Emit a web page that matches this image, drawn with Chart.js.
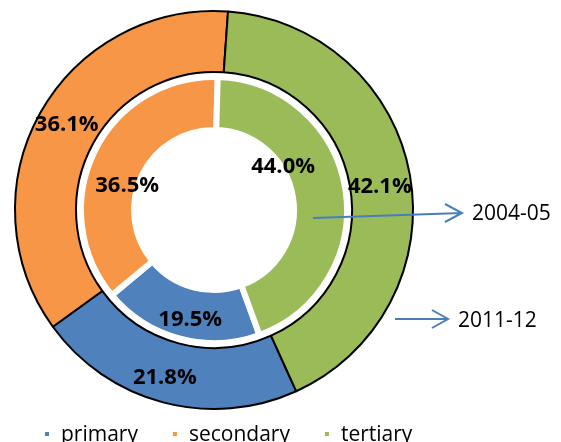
<!DOCTYPE html>
<html>
<head>
<meta charset="utf-8">
<script src="https://cdn.jsdelivr.net/npm/chart.js@4.4.0/dist/chart.umd.min.js"></script>
<style>
html, body { margin: 0; padding: 0; background: #fff; }
</style>
</head>
<body>
<canvas id="myChart" width="561" height="442"></canvas>
<script>
const labels = ["primary", "secondary", "tertiary"]
const colorHex = ["#4f81bd", "#f79646", "#9bbb59"]
const share2011 = [21.8, 36.1, 42.1]   // outer ring
const share2004 = [19.5, 36.5, 44.0]   // inner ring
const ringNames = ["2011-12", "2004-05"]

// small hand nudges so the labels sit where the original put them
const outerNudge = [[-6, 5], [0, -3], [0, 7]]
const innerNudge = [[4, 7], [9, 22], [-36, -26]]

Chart.defaults.font.family = '"Open Sans", sans-serif'

const pctLabels = {
    id: 'pctLabels',
    afterDatasetsDraw(chart) {
        const c = chart.ctx
        c.save()
        c.font = 'bold 22px "Open Sans"'
        c.fillStyle = '#000'
        c.textAlign = 'center'
        c.textBaseline = 'middle'
        const rings = [[0, outerNudge], [2, innerNudge]]
        rings.forEach(([di, nudge]) => {
            chart.getDatasetMeta(di).data.forEach((arc, i) => {
                const p = arc.tooltipPosition()
                const v = chart.data.datasets[di].data[i]
                c.fillText(v.toFixed(1) + '%', p.x + nudge[i][0], p.y + nudge[i][1])
            })
        })
        c.restore()
    }
}

function arrow(c, x1, y1, x2, y2, back, half) {
    c.beginPath()
    c.moveTo(x1, y1)
    c.lineTo(x2, y2)
    c.moveTo(x2 - back, y2 - half)
    c.lineTo(x2, y2)
    c.lineTo(x2 - back, y2 + half)
    c.stroke()
}

const extras = {
    id: 'extras',
    afterDraw(chart) {
        const c = chart.ctx
        const arc = chart.getDatasetMeta(0).data[0]
        const cx = arc.x, cy = arc.y
        c.save()
        c.strokeStyle = '#4a7ebb'
        c.lineWidth = 2
        arrow(c, cx + 99, cy + 8, cx + 248, cy + 3, 17, 9)
        arrow(c, cx + 181, cy + 109, cx + 234, cy + 109, 16, 9)
        c.font = '21px "Open Sans"'
        c.fillStyle = '#000'
        c.textBaseline = 'middle'
        c.fillText(ringNames[1], cx + 258, cy + 4)
        c.fillText(ringNames[0], cx + 244, cy + 111)

        // legend
        let x = 45
        const y = 441
        labels.forEach((lab, i) => {
            c.fillStyle = colorHex[i]
            c.fillRect(x, 432, 4, 4)
            c.fillStyle = '#000'
            c.textBaseline = 'alphabetic'
            c.fillText(lab, x + 16, y)
            x += 16 + c.measureText(lab).width + 35
        })
        c.restore()
    }
}

const ctx = document.getElementById('myChart').getContext('2d')

const myChart = new Chart(ctx, {
    type: 'doughnut',
    data: {
        labels: labels,
        datasets: [{
            label: ringNames[0],
            data: share2011,
            backgroundColor: colorHex,
            borderColor: '#000',
            borderWidth: 2,
            rotation: 155.6,
            weight: 61
        }, {
            label: 'gap',
            data: [1],
            backgroundColor: 'rgba(0,0,0,0)',
            borderWidth: 0,
            weight: 5
        }, {
            label: ringNames[1],
            data: share2004,
            backgroundColor: colorHex,
            borderColor: '#fff',
            borderWidth: 6,
            rotation: 160,
            weight: 53
        }]
    },
    options: {
        responsive: false,
        animation: false,
        cutout: '40.2%',
        layout: {
            padding: { left: 14, right: 147, top: 10, bottom: 32 }
        },
        plugins: {
            legend: { display: false },
            tooltip: { enabled: false }
        }
    },
    plugins: [pctLabels, extras]
})
</script>
</body>
</html>
